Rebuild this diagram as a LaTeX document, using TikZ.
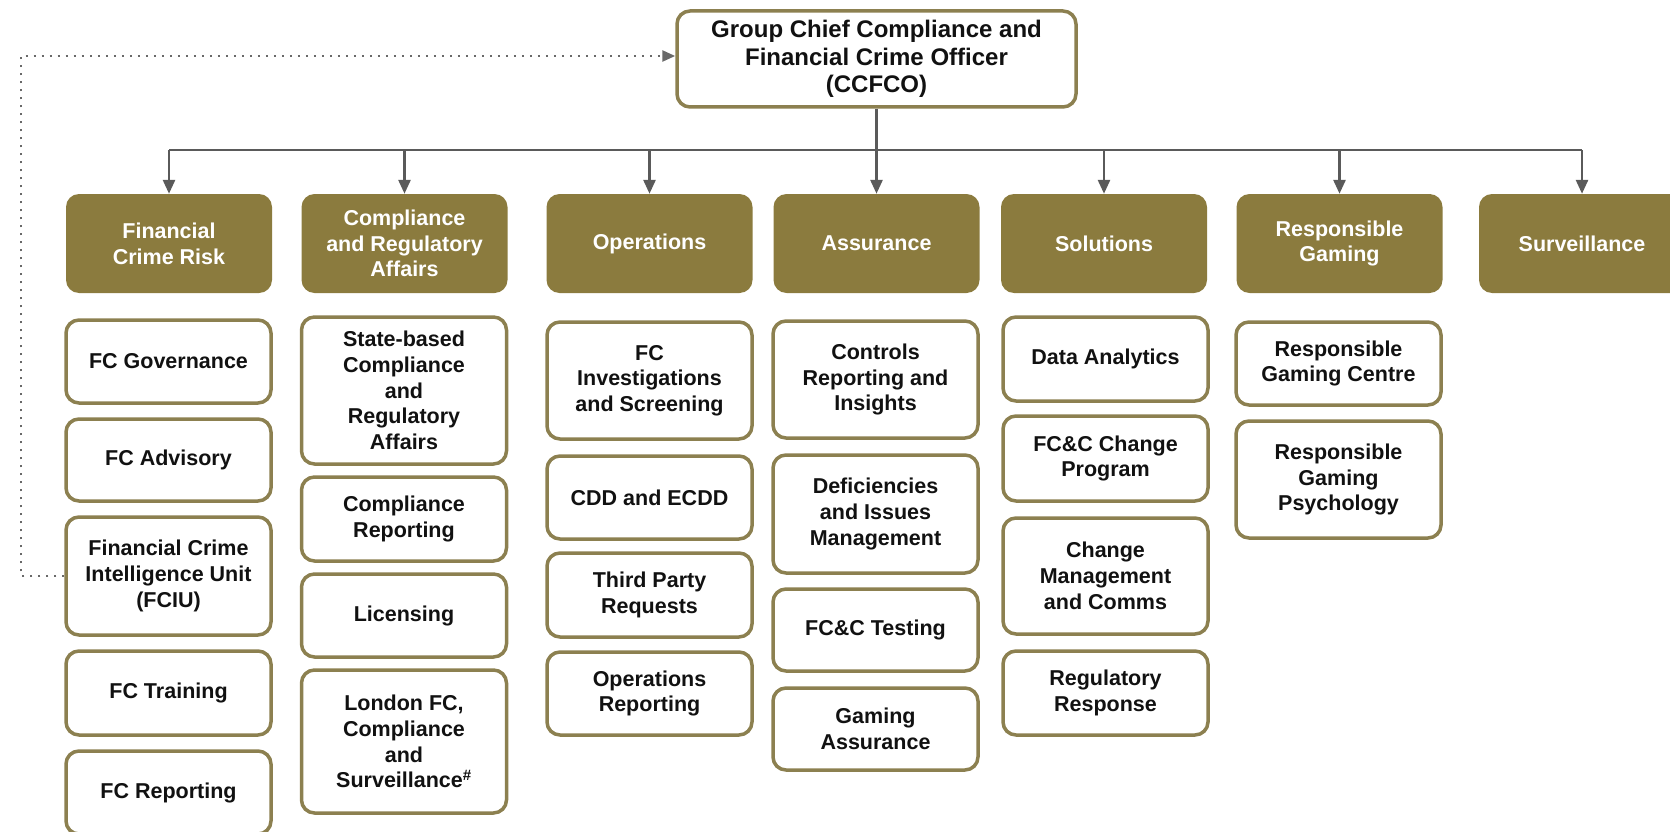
\documentclass[tikz,border=0pt]{standalone}
\usepackage{fontspec}
\setmainfont{Liberation Sans}
\usetikzlibrary{arrows.meta}
\definecolor{olivefill}{RGB}{139,123,62}
\definecolor{oliveline}{RGB}{140,128,80}
\definecolor{arrgray}{RGB}{90,90,90}
\definecolor{dotgray}{RGB}{105,105,105}
\definecolor{txt}{RGB}{17,17,17}
\begin{document}
\begin{tikzpicture}[x=1pt,y=-1pt,
  base/.style={rounded corners=13pt, align=center, inner sep=0pt, font=\fontsize{21.5}{25.7}\selectfont\bfseries},
  hdbox/.style={base, fill=olivefill, text=white, minimum width=206pt, minimum height=99pt},
  unitbox/.style={base, draw=oliveline, line width=3.5pt, fill=white, text=txt, minimum width=205pt},
  chief/.style={base, draw=oliveline, line width=3.5pt, fill=white, text=txt, font=\fontsize{24}{27.7}\selectfont\bfseries, minimum width=399pt, minimum height=96pt},
  busline/.style={draw=arrgray, line width=2.7pt},
  arr/.style={draw=arrgray, line width=2.7pt, -{Triangle[length=14pt,width=12pt]}},
  dotline/.style={draw=dotgray, line width=2.6pt, dash pattern=on 2.2pt off 5.8pt, -{Triangle[length=13pt,width=11pt]}}
]
\useasboundingbox (0,0) rectangle (1670,832);
\clip (0,0) rectangle (1670,832);

% top
\node[chief] (ccfco) at (876.5,59) {Group Chief Compliance and\\Financial Crime Officer\\(CCFCO)};

% headers
\node[hdbox] (h1) at (169,243.5) {Financial\\Crime Risk};
\node[hdbox] (h2) at (404.5,243.5) {Compliance\\and Regulatory\\Affairs};
\node[hdbox] (h3) at (649.5,243.5) {Operations};
\node[hdbox] (h4) at (876.5,243.5) {Assurance};
\node[hdbox] (h5) at (1104,243.5) {Solutions};
\node[hdbox] (h6) at (1339.5,243.5) {Responsible\\Gaming};
\node[hdbox] (h7) at (1582,243.5) {Surveillance};

% connectors
\coordinate (bus) at (0,150);
\draw[busline] (ccfco.south) -- (ccfco.south |- bus);
\draw[busline] (h1.north |- bus) -- (h7.north |- bus);
\draw[arr] (h1.north |- bus) -- (h1.north);
\draw[arr] (h2.north |- bus) -- (h2.north);
\draw[arr] (h3.north |- bus) -- (h3.north);
\draw[arr] (h4.north |- bus) -- (h4.north);
\draw[arr] (h5.north |- bus) -- (h5.north);
\draw[arr] (h6.north |- bus) -- (h6.north);
\draw[arr] (h7.north |- bus) -- (h7.north);

% column 1
\node[unitbox, minimum height=83pt] (fcg) at (168.5,361.5) {FC Governance};
\node[unitbox, minimum height=82pt] (fca) at (168.5,460) {FC Advisory};
\node[unitbox, minimum height=118pt] (fciu) at (168.5,576) {Financial Crime\\Intelligence Unit\\(FCIU)};
\node[unitbox, minimum height=84pt] (fct) at (168.5,693) {FC Training};
\node[unitbox, minimum height=83pt] (fcr) at (168.5,792.5) {FC Reporting};

% column 2
\node[unitbox, minimum height=147pt] (sb) at (404,390.5) {State-based\\Compliance\\and\\Regulatory\\Affairs};
\node[unitbox, minimum height=84pt] (cr) at (404,519) {Compliance\\Reporting};
\node[unitbox, minimum height=83pt] (lic) at (404,615.5) {Licensing};
\node[unitbox, minimum height=143pt] (lon) at (404,741.5) {London FC,\\Compliance\\and\\Surveillance\textsuperscript{\#}};

% column 3
\node[unitbox, minimum height=117pt] (fci) at (649.5,380.5) {FC\\Investigations\\and Screening};
\node[unitbox, minimum height=83pt] (cdd) at (649.5,497.5) {CDD and ECDD};
\node[unitbox, minimum height=84pt] (tpr) at (649.5,595) {Third Party\\Requests};
\node[unitbox, minimum height=83pt] (opr) at (649.5,693.5) {Operations\\Reporting};

% column 4
\node[unitbox, minimum height=117pt] (cri) at (875.5,379.5) {Controls\\Reporting and\\Insights};
\node[unitbox, minimum height=118pt] (dim) at (875.5,514) {Deficiencies\\and Issues\\Management};
\node[unitbox, minimum height=82pt] (fct2) at (875.5,630) {FC\&C Testing};
\node[unitbox, minimum height=82pt] (ga) at (875.5,729) {Gaming\\Assurance};

% column 5
\node[unitbox, minimum height=84pt] (da) at (1105.5,359) {Data Analytics};
\node[unitbox, minimum height=85pt] (fcc) at (1105.5,458.5) {FC\&C Change\\Program};
\node[unitbox, minimum height=116pt] (cm) at (1105.5,576) {Change\\Management\\and Comms};
\node[unitbox, minimum height=84pt] (rr) at (1105.5,693) {Regulatory\\Response};

% column 6
\node[unitbox, minimum height=83pt] (rgc) at (1338.5,363.5) {Responsible\\Gaming Centre};
\node[unitbox, minimum height=117pt] (rgp) at (1338.5,479.5) {Responsible\\Gaming\\Psychology};

% dotted reporting line
\coordinate (dl) at (21,576);
\coordinate (dt) at ([yshift=3pt]ccfco.west);
\draw[dotline] (fciu.west) -- (dl) |- (dt);
\end{tikzpicture}
\end{document}
